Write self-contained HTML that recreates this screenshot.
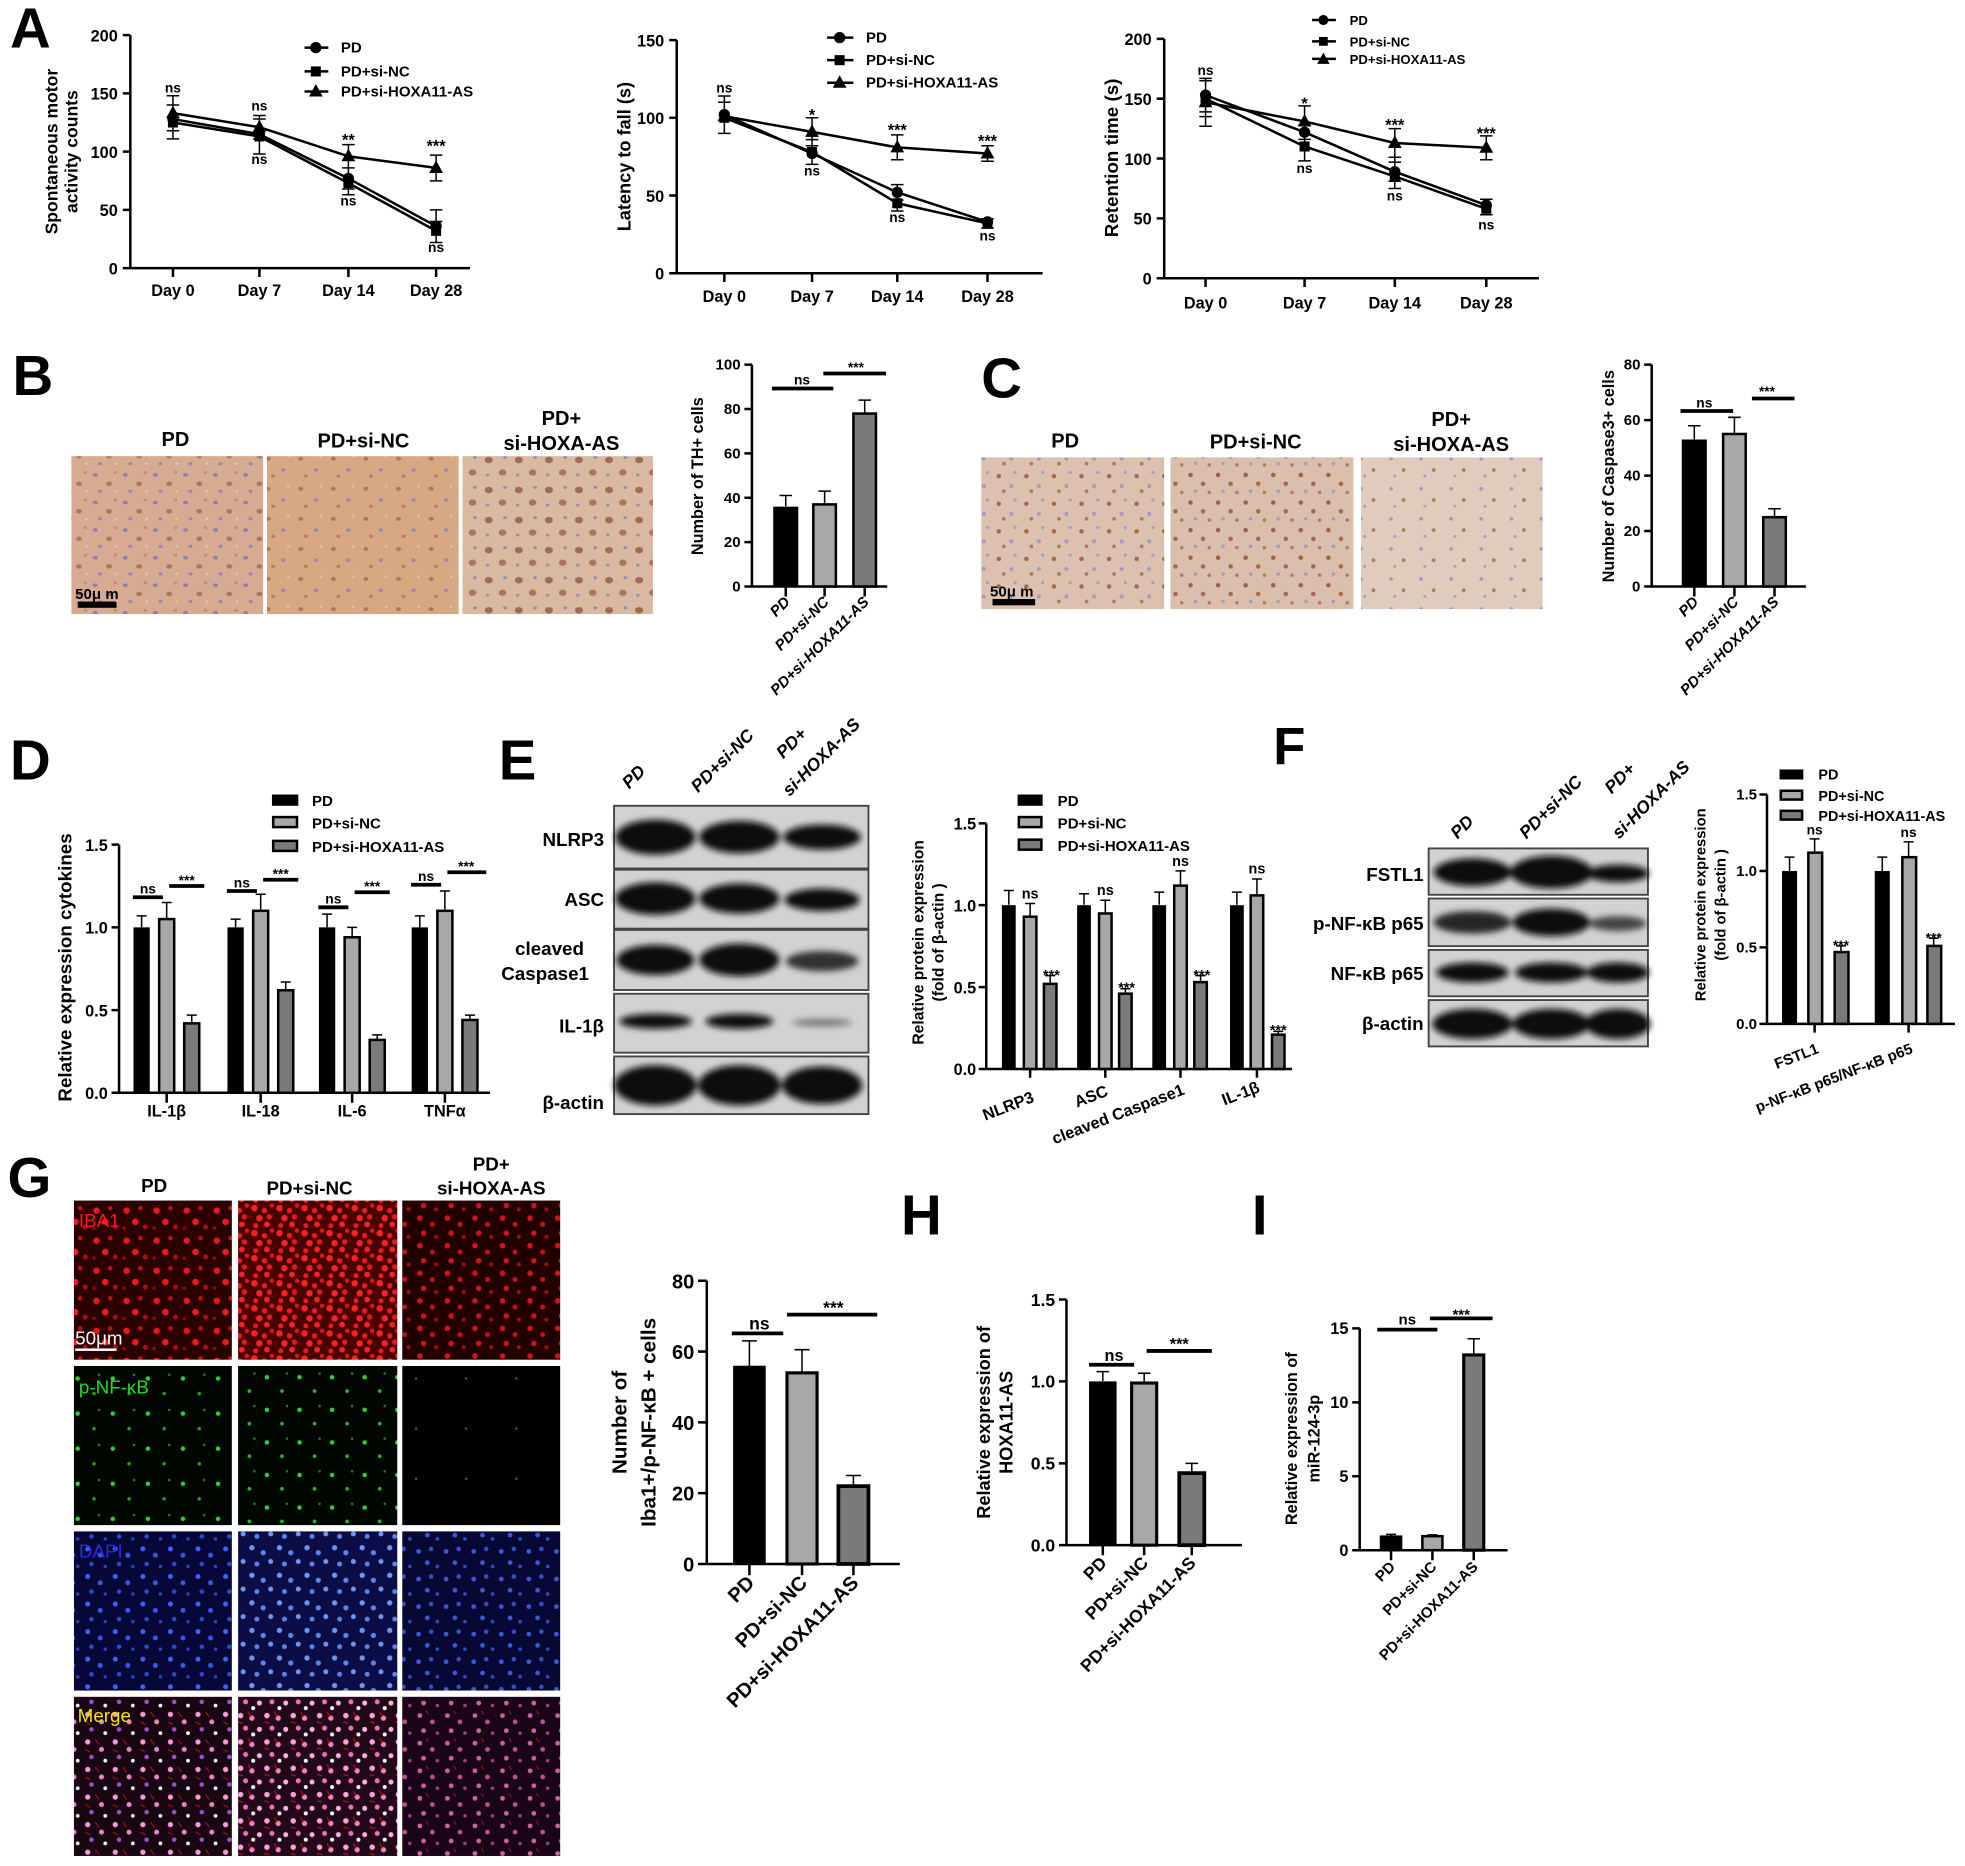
<!DOCTYPE html>
<html><head><meta charset="utf-8">
<style>html,body{margin:0;padding:0;background:#fff;overflow:hidden}svg{display:block}</style>
</head><body>
<svg width="1965" height="1866" viewBox="0 0 1568 1489" preserveAspectRatio="none" xmlns="http://www.w3.org/2000/svg">
<defs>
<filter id="bl" x="-30%" y="-60%" width="160%" height="220%"><feGaussianBlur stdDeviation="2.6"/></filter>
<pattern id="pB1" width="24" height="22" patternUnits="userSpaceOnUse"><rect width="24" height="22" fill="#d6ab91"/><ellipse cx="4" cy="5" rx="2" ry="1.5" fill="#8d80b0"/><ellipse cx="15" cy="12" rx="2.3" ry="1.8" fill="#a87761"/><ellipse cx="8" cy="18" rx="1.6" ry="1.3" fill="#9488b6"/><ellipse cx="20" cy="3" rx="1.4" ry="1.2" fill="#b9907c"/><circle cx="21" cy="18" r="1" fill="#e6c6b0"/></pattern>
<pattern id="pB2" width="26" height="24" patternUnits="userSpaceOnUse"><rect width="26" height="24" fill="#d8a883"/><ellipse cx="6" cy="6" rx="2" ry="1.6" fill="#a87a66"/><ellipse cx="18" cy="15" rx="1.7" ry="1.4" fill="#9a8ab0"/><ellipse cx="10" cy="20" rx="1.6" ry="1.3" fill="#b08068"/><circle cx="22" cy="4" r="1" fill="#e8c4a8"/></pattern>
<pattern id="pB3" width="24" height="24" patternUnits="userSpaceOnUse"><rect width="24" height="24" fill="#d9b9a1"/><ellipse cx="6" cy="7" rx="3.2" ry="2.6" fill="#a06b53"/><ellipse cx="17" cy="17" rx="3" ry="2.5" fill="#a87560"/><ellipse cx="19" cy="5" rx="1.5" ry="1.2" fill="#9488b6"/><ellipse cx="5" cy="19" rx="1.4" ry="1.2" fill="#9a8cba"/></pattern>
<pattern id="pC1" width="22" height="22" patternUnits="userSpaceOnUse"><rect width="22" height="22" fill="#dcc1ae"/><circle cx="5" cy="6" r="1.8" fill="#a4694d"/><circle cx="15" cy="14" r="1.6" fill="#a69ac0"/><circle cx="9" cy="18" r="1.5" fill="#b0785c"/><circle cx="18" cy="3" r="1.3" fill="#a89ec4"/></pattern>
<pattern id="pC2" width="22" height="22" patternUnits="userSpaceOnUse"><rect width="22" height="22" fill="#dabfac"/><circle cx="4" cy="5" r="1.8" fill="#9c6046"/><circle cx="14" cy="12" r="1.8" fill="#a4694d"/><circle cx="8" cy="18" r="1.4" fill="#a69ac0"/><circle cx="19" cy="19" r="1.4" fill="#b07a60"/></pattern>
<pattern id="pC3" width="24" height="24" patternUnits="userSpaceOnUse"><rect width="24" height="24" fill="#e0cbbd"/><circle cx="6" cy="6" r="1.5" fill="#a69ac0"/><circle cx="16" cy="15" r="1.5" fill="#ae7a62"/><circle cx="9" cy="20" r="1.2" fill="#a89ec4"/></pattern>
<pattern id="pR1" width="24" height="24" patternUnits="userSpaceOnUse"><rect width="24" height="24" fill="#2a0000"/><circle cx="5" cy="6" r="2.6" fill="#e81616"/><circle cx="16" cy="4" r="1.8" fill="#c01010"/><circle cx="12" cy="15" r="2.6" fill="#f01a1a"/><circle cx="20" cy="19" r="2" fill="#b00c0c"/><circle cx="3" cy="20" r="1.4" fill="#900a0a"/></pattern>
<pattern id="pR2" width="20" height="20" patternUnits="userSpaceOnUse"><rect width="20" height="20" fill="#480000"/><circle cx="3" cy="4" r="2.6" fill="#ff2020"/><circle cx="11" cy="6" r="2.2" fill="#f01818"/><circle cx="17" cy="2" r="1.8" fill="#e01515"/><circle cx="7" cy="12" r="2.6" fill="#ff2222"/><circle cx="15" cy="11" r="2.2" fill="#e81818"/><circle cx="4" cy="18" r="2" fill="#f01a1a"/><circle cx="13" cy="17" r="2.3" fill="#ff2020"/></pattern>
<pattern id="pR3" width="22" height="22" patternUnits="userSpaceOnUse"><rect width="22" height="22" fill="#220000"/><circle cx="5" cy="4" r="2.2" fill="#d41414"/><circle cx="15" cy="9" r="2" fill="#c81212"/><circle cx="8" cy="16" r="2.2" fill="#d01414"/><circle cx="18" cy="19" r="1.6" fill="#a00e0e"/></pattern>
<pattern id="pG1" width="28" height="28" patternUnits="userSpaceOnUse"><rect width="28" height="28" fill="#010601"/><circle cx="6" cy="8" r="1.8" fill="#2bd42b"/><circle cx="19" cy="20" r="1.4" fill="#1fa81f"/><circle cx="23" cy="5" r="1" fill="#188818"/></pattern>
<pattern id="pG2" width="26" height="26" patternUnits="userSpaceOnUse"><rect width="26" height="26" fill="#010601"/><circle cx="5" cy="7" r="1.8" fill="#2bd42b"/><circle cx="17" cy="18" r="1.5" fill="#22b822"/><circle cx="21" cy="4" r="1" fill="#168016"/></pattern>
<pattern id="pG3" width="40" height="40" patternUnits="userSpaceOnUse"><rect width="40" height="40" fill="#000"/><circle cx="12" cy="20" r="1" fill="#1a7a1a"/></pattern>
<pattern id="pL1" width="22" height="22" patternUnits="userSpaceOnUse"><rect width="22" height="22" fill="#080838"/><circle cx="4" cy="4" r="2" fill="#3a62ff"/><circle cx="14" cy="9" r="2" fill="#3358e8"/><circle cx="7" cy="16" r="1.8" fill="#2c4cd0"/><circle cx="18" cy="18" r="1.4" fill="#2a44b8"/></pattern>
<pattern id="pL2" width="22" height="22" patternUnits="userSpaceOnUse"><rect width="22" height="22" fill="#0c0c46"/><circle cx="3" cy="3" r="2.1" fill="#6e96f0"/><circle cx="12" cy="7" r="2.1" fill="#5a84e8"/><circle cx="18" cy="14" r="2" fill="#6e96f0"/><circle cx="7" cy="16" r="2" fill="#5a84e8"/></pattern>
<pattern id="pL3" width="22" height="22" patternUnits="userSpaceOnUse"><rect width="22" height="22" fill="#080834"/><circle cx="4" cy="6" r="1.9" fill="#3c58d8"/><circle cx="14" cy="4" r="1.8" fill="#3450c8"/><circle cx="11" cy="15" r="1.9" fill="#3c58d8"/><circle cx="19" cy="18" r="1.5" fill="#3048c0"/></pattern>
<pattern id="pM1" width="22" height="22" patternUnits="userSpaceOnUse"><rect width="22" height="22" fill="#180612"/><circle cx="4" cy="4" r="2.1" fill="#ff98d8"/><circle cx="15" cy="10" r="2" fill="#f080c8"/><circle cx="7" cy="16" r="1.8" fill="#a050d0"/><circle cx="18" cy="19" r="1.5" fill="#ffffff"/><path d="M10 2l3 4M2 10l4 2" stroke="#a01010" stroke-width="1"/></pattern>
<pattern id="pM2" width="21" height="21" patternUnits="userSpaceOnUse"><rect width="21" height="21" fill="#220818"/><circle cx="3" cy="4" r="2.2" fill="#ffa0d8"/><circle cx="12" cy="6" r="2.1" fill="#ff80c0"/><circle cx="18" cy="15" r="2" fill="#ffb0e0"/><circle cx="7" cy="14" r="2" fill="#f070b8"/><circle cx="13" cy="19" r="1.6" fill="#ffffff"/><path d="M9 1l2 4M1 9l4 1" stroke="#b01414" stroke-width="1"/></pattern>
<pattern id="pM3" width="22" height="22" patternUnits="userSpaceOnUse"><rect width="22" height="22" fill="#1a0518"/><circle cx="5" cy="5" r="1.9" fill="#d060a0"/><circle cx="15" cy="10" r="1.9" fill="#c05090"/><circle cx="8" cy="17" r="1.9" fill="#d060a0"/><circle cx="19" cy="19" r="1.4" fill="#a04088"/><path d="M10 1l2 3" stroke="#901010" stroke-width="1"/></pattern>
</defs>
<style>
text{font-family:"Liberation Sans",Arial,sans-serif;font-weight:bold;fill:#000}
.m{text-anchor:middle}.e{text-anchor:end}.n{font-weight:normal}.i{font-style:italic}
.ax{stroke:#000;stroke-width:2;fill:none}
.eb{stroke:#000;stroke-width:1.2;fill:none}
.ln{stroke:#000;stroke-width:2;fill:none}
.lg{fill:#a8a8a8;stroke:#000;stroke-width:2}
.dg{fill:#7a7a7a;stroke:#000;stroke-width:2}
.br{stroke:#000;stroke-width:3}
.blot{fill:#d2d2d2;stroke:#444;stroke-width:1.5}
.bd{fill:#111;filter:url(#bl)}
</style>
<rect width="1568" height="1489" fill="#fff"/>

<!-- Panel letters -->
<text x="8" y="38" font-size="45">A</text>
<text x="10" y="315" font-size="45">B</text>
<text x="783" y="317" font-size="45">C</text>
<text x="8" y="622" font-size="45">D</text>
<text x="398" y="622" font-size="45">E</text>
<text x="1016" y="610" font-size="42">F</text>
<text x="6" y="955" font-size="45">G</text>
<text x="719" y="985" font-size="45">H</text>
<text x="999" y="985" font-size="45">I</text>

<!-- ===== A1 ===== -->
<path class="ax" d="M104 28V214H375M98 28H104M98 74.5H104M98 121H104M98 167.5H104M98 214H104M138 214v7M207 214v7M278 214v7M348 214v7"/>
<g font-size="13" class="e"><text x="94" y="33">200</text><text x="94" y="79.5">150</text><text x="94" y="126">100</text><text x="94" y="172.5">50</text><text x="94" y="219">0</text></g>
<g font-size="13" class="m"><text x="138" y="236">Day 0</text><text x="207" y="236">Day 7</text><text x="278" y="236">Day 14</text><text x="348" y="236">Day 28</text></g>
<text transform="translate(46,121) rotate(-90)" class="m" font-size="14">Spontaneous motor</text>
<text transform="translate(62,121) rotate(-90)" class="m" font-size="14">activity counts</text>
<polyline class="ln" points="138,95 207,107.1 278,142.4 348,180.5"/>
<polyline class="ln" points="138,97.75 207,108.9 278,146.1 348,184.2"/>
<polyline class="ln" points="138,90.3 207,101.5 278,124.7 348,134"/>
<path class="eb" d="M138 76.4V110.8M133 76.4h10M133 83.8h10M133 104.3h10M133 110.8h10M207 92.2V122.9M202 92.2h10M202 95h10M202 110.8h10M202 122.9h10M278 115.4V155.4M273 115.4h10M273 134h10M273 150.8h10M273 155.4h10M348 123.8V144.3M343 123.8h10M343 144.3h10M348 167.5V193.5M343 167.5h10M343 176.8h10M343 193.5h10"/>
<g fill="#000"><circle cx="138" cy="95" r="4.5"/><circle cx="207" cy="107.1" r="4.5"/><circle cx="278" cy="142.4" r="4.5"/><circle cx="348" cy="180.5" r="4.5"/>
<rect x="134" y="93.75" width="8" height="8"/><rect x="203" y="104.9" width="8" height="8"/><rect x="274" y="142.1" width="8" height="8"/><rect x="344" y="180.2" width="8" height="8"/>
<polygon points="138,84.3 132.5,94.3 143.5,94.3"/><polygon points="207,95.5 201.5,105.5 212.5,105.5"/><polygon points="278,118.7 272.5,128.7 283.5,128.7"/><polygon points="348,128 342.5,138 353.5,138"/></g>
<g font-size="11" class="m"><text x="138" y="74">ns</text><text x="207" y="88">ns</text><text x="207" y="131">ns</text><text x="278" y="116" font-size="13">**</text><text x="278" y="164">ns</text><text x="348" y="121" font-size="13">***</text><text x="348" y="201">ns</text></g>
<path class="ln" d="M243 38H262M243 57H262M243 73H262"/>
<g fill="#000"><circle cx="252" cy="38" r="4.5"/><rect x="248" y="53" width="8" height="8"/><polygon points="252,67 246.5,77 257.5,77"/></g>
<g font-size="12"><text x="272" y="42">PD</text><text x="272" y="61">PD+si-NC</text><text x="272" y="77">PD+si-HOXA11-AS</text></g>

<!-- ===== A2 ===== -->
<path class="ax" d="M540 32V218H832M534 32H540M534 94H540M534 156H540M534 218H540M578 218v7M648 218v7M716 218v7M788 218v7"/>
<g font-size="13" class="e"><text x="530" y="37">150</text><text x="530" y="99">100</text><text x="530" y="161">50</text><text x="530" y="223">0</text></g>
<g font-size="13" class="m"><text x="578" y="241">Day 0</text><text x="648" y="241">Day 7</text><text x="716" y="241">Day 14</text><text x="788" y="241">Day 28</text></g>
<text transform="translate(503,125) rotate(-90)" class="m" font-size="14.5">Latency to fall (s)</text>
<polyline class="ln" points="578,91.5 648,122.5 716,153.5 788,177.1"/>
<polyline class="ln" points="578,94 648,121.3 716,162.2 788,178.3"/>
<polyline class="ln" points="578,92.8 648,105.2 716,117.6 788,122.5"/>
<path class="eb" d="M578 76.6V106.4M573 76.6h10M573 81.6h10M573 106.4h10M648 94V131.2M643 94h10M643 111.4h10M643 116.3h10M643 131.2h10M716 107.6V127.5M711 107.6h10M711 127.5h10M716 147.3V168.4M711 147.3h10M711 159.7h10M711 168.4h10M788 116.3V128.7M783 116.3h10M783 128.7h10M788 174.6V182M783 174.6h10M783 182h10"/>
<g fill="#000"><circle cx="578" cy="91.5" r="4.5"/><circle cx="648" cy="122.5" r="4.5"/><circle cx="716" cy="153.5" r="4.5"/><circle cx="788" cy="177.1" r="4.5"/>
<rect x="574" y="90" width="8" height="8"/><rect x="644" y="117.3" width="8" height="8"/><rect x="712" y="158.2" width="8" height="8"/><rect x="784" y="174.3" width="8" height="8"/>
<polygon points="578,86.8 572.5,96.8 583.5,96.8"/><polygon points="648,99.2 642.5,109.2 653.5,109.2"/><polygon points="716,111.6 710.5,121.6 721.5,121.6"/><polygon points="788,116.5 782.5,126.5 793.5,126.5"/></g>
<g font-size="11" class="m"><text x="578" y="74">ns</text><text x="648" y="96" font-size="13">*</text><text x="648" y="140">ns</text><text x="716" y="108" font-size="13">***</text><text x="716" y="177">ns</text><text x="788" y="117" font-size="13">***</text><text x="788" y="192">ns</text></g>
<path class="ln" d="M660 30H681M660 48H681M660 66H681"/>
<g fill="#000"><circle cx="670" cy="30" r="4.5"/><rect x="666" y="44" width="8" height="8"/><polygon points="670,60 664.5,70 675.5,70"/></g>
<g font-size="12"><text x="691" y="34">PD</text><text x="691" y="52">PD+si-NC</text><text x="691" y="70">PD+si-HOXA11-AS</text></g>

<!-- ===== A3 ===== -->
<path class="ax" d="M929 31V222H1228M923 31H929M923 78.75H929M923 126.5H929M923 174.25H929M923 222H929M962 222v7M1041 222v7M1113 222v7M1186 222v7"/>
<g font-size="13" class="e"><text x="919" y="36">200</text><text x="919" y="83.75">150</text><text x="919" y="131.5">100</text><text x="919" y="179.25">50</text><text x="919" y="227">0</text></g>
<g font-size="13" class="m"><text x="962" y="246">Day 0</text><text x="1041" y="246">Day 7</text><text x="1113" y="246">Day 14</text><text x="1186" y="246">Day 28</text></g>
<text transform="translate(892,126) rotate(-90)" class="m" font-size="15">Retention time (s)</text>
<polyline class="ln" points="962,75.9 1041,105.5 1113,137 1186,163.7"/>
<polyline class="ln" points="962,78.75 1041,116.9 1113,140.8 1186,166.6"/>
<polyline class="ln" points="962,81.6 1041,96.9 1113,114.1 1186,117.9"/>
<path class="eb" d="M962 62.5V100.7M957 62.5h10M957 64.4h10M957 89.3h10M957 93.1h10M957 100.7h10M1041 84.5V128.4M1036 84.5h10M1036 99.8h10M1036 111.2h10M1036 128.4h10M1113 102.6V150.4M1108 102.6h10M1108 125.5h10M1108 129.4h10M1108 144.6h10M1108 150.4h10M1186 108.4V127.5M1181 108.4h10M1181 127.5h10M1186 159V171.4M1181 159h10M1181 171.4h10"/>
<g fill="#000"><circle cx="962" cy="75.9" r="4.5"/><circle cx="1041" cy="105.5" r="4.5"/><circle cx="1113" cy="137" r="4.5"/><circle cx="1186" cy="163.7" r="4.5"/>
<rect x="958" y="74.75" width="8" height="8"/><rect x="1037" y="112.9" width="8" height="8"/><rect x="1109" y="136.8" width="8" height="8"/><rect x="1182" y="162.6" width="8" height="8"/>
<polygon points="962,75.6 956.5,85.6 967.5,85.6"/><polygon points="1041,90.9 1035.5,100.9 1046.5,100.9"/><polygon points="1113,108.1 1107.5,118.1 1118.5,118.1"/><polygon points="1186,111.9 1180.5,121.9 1191.5,121.9"/></g>
<g font-size="11" class="m"><text x="962" y="60">ns</text><text x="1041" y="87" font-size="13">*</text><text x="1041" y="138">ns</text><text x="1113" y="104" font-size="13">***</text><text x="1113" y="160">ns</text><text x="1186" y="111" font-size="13">***</text><text x="1186" y="183">ns</text></g>
<path class="ln" d="M1047 16H1066M1047 33H1066M1047 47H1066"/>
<g fill="#000"><circle cx="1056" cy="16" r="4"/><rect x="1052.5" y="29.5" width="7" height="7"/><polygon points="1056,42 1051,51 1061,51"/></g>
<g font-size="10.5"><text x="1077" y="20">PD</text><text x="1077" y="37">PD+si-NC</text><text x="1077" y="51">PD+si-HOXA11-AS</text></g>

<!-- ===== B ===== -->
<g font-size="16" class="m"><text x="140" y="356">PD</text><text x="290" y="357">PD+si-NC</text><text x="448" y="339">PD+</text><text x="448" y="359">si-HOXA-AS</text></g>
<rect x="57" y="364" width="153" height="126" fill="url(#pB1)"/>
<rect x="213" y="364" width="153" height="126" fill="url(#pB2)"/>
<rect x="369" y="364" width="152" height="126" fill="url(#pB3)"/>
<text x="60" y="478" font-size="12">50μ m</text>
<rect x="62" y="480" width="31" height="5" fill="#000"/>
<path class="ax" d="M600 291V468H708M594 291H600M594 326.4H600M594 361.8H600M594 397.2H600M594 432.6H600M594 468H600M627 468v8M658 468v8M690 468v8"/>
<g font-size="12" class="e"><text x="591" y="295">100</text><text x="591" y="330.4">80</text><text x="591" y="365.8">60</text><text x="591" y="401.2">40</text><text x="591" y="436.6">20</text><text x="591" y="472">0</text></g>
<text transform="translate(561,380) rotate(-90)" class="m" font-size="13">Number of TH+ cells</text>
<rect x="617" y="404.3" width="20" height="63.7" fill="#000"/>
<rect x="649" y="402.5" width="18" height="65.5" class="lg"/>
<rect x="681" y="330" width="18" height="138" class="dg"/>
<path class="eb" d="M627 395.4V404M622 395.4h10M658 391.9V402M653 391.9h10M690 319.3V330M685 319.3h10"/>
<path class="br" d="M616 310H665M657 298H707"/>
<g font-size="11" class="m n"><text x="640" y="307">ns</text><text x="683" y="297">***</text></g>
<g font-size="12" class="e i"><text transform="translate(631,481) rotate(-45)">PD</text><text transform="translate(662,481) rotate(-45)">PD+si-NC</text><text transform="translate(694,481) rotate(-45)">PD+si-HOXA11-AS</text></g>

<!-- ===== C ===== -->
<g font-size="16" class="m"><text x="850" y="357">PD</text><text x="1002" y="358">PD+si-NC</text><text x="1158" y="340">PD+</text><text x="1158" y="360">si-HOXA-AS</text></g>
<rect x="783" y="365" width="146" height="121" fill="url(#pC1)"/>
<rect x="934" y="365" width="146" height="121" fill="url(#pC2)"/>
<rect x="1086" y="365" width="145" height="121" fill="url(#pC3)"/>
<text x="790" y="476" font-size="12">50μ m</text>
<rect x="792" y="478" width="34" height="5" fill="#000"/>
<path class="ax" d="M1318 291V468H1441M1312 291H1318M1312 335.25H1318M1312 379.5H1318M1312 423.75H1318M1312 468H1318M1352 468v8M1384 468v8M1416 468v8"/>
<g font-size="12" class="e"><text x="1309" y="295">80</text><text x="1309" y="339.25">60</text><text x="1309" y="383.5">40</text><text x="1309" y="427.75">20</text><text x="1309" y="472">0</text></g>
<text transform="translate(1288,380) rotate(-90)" class="m" font-size="13">Number of Caspase3+ cells</text>
<rect x="1342" y="350.7" width="20" height="117.3" fill="#000"/>
<rect x="1375" y="346.3" width="18" height="121.7" class="lg"/>
<rect x="1407" y="412.7" width="18" height="55.3" class="dg"/>
<path class="eb" d="M1352 339.7V351M1347 339.7h10M1384 333V346M1379 333h10M1416 406V413M1411 406h10"/>
<path class="br" d="M1341 328H1383M1398 318H1432"/>
<g font-size="11" class="m n"><text x="1360" y="325">ns</text><text x="1410" y="316">***</text></g>
<g font-size="12" class="e i"><text transform="translate(1356,481) rotate(-45)">PD</text><text transform="translate(1388,481) rotate(-45)">PD+si-NC</text><text transform="translate(1420,481) rotate(-45)">PD+si-HOXA11-AS</text></g>

<!-- ===== D ===== -->
<rect x="217" y="634" width="21" height="9" fill="#000"/>
<rect x="218" y="652" width="19" height="8" class="lg"/>
<rect x="218" y="671" width="19" height="8" class="dg"/>
<g font-size="12"><text x="249" y="643">PD</text><text x="249" y="661">PD+si-NC</text><text x="249" y="680">PD+si-HOXA11-AS</text></g>
<path class="ax" d="M95 674V872H391M89 674H95M89 740H95M89 806H95M89 872H95M133 872v8M208 872v8M281 872v8M355 872v8"/>
<g font-size="13" class="e"><text x="86" y="679">1.5</text><text x="86" y="745">1.0</text><text x="86" y="811">0.5</text><text x="86" y="877">0.0</text></g>
<text transform="translate(57,772) rotate(-90)" class="m" font-size="15">Relative expression cytokines</text>
<g fill="#000"><rect x="106.5" y="740" width="13" height="132"/><rect x="181.5" y="740" width="13" height="132"/><rect x="254.5" y="740" width="13" height="132"/><rect x="328.5" y="740" width="13" height="132"/></g>
<rect x="127" y="733.4" width="12" height="138.6" class="lg"/><rect x="202" y="726.8" width="12" height="145.2" class="lg"/><rect x="275" y="747.9" width="12" height="124.1" class="lg"/><rect x="349" y="726.8" width="12" height="145.2" class="lg"/>
<rect x="147" y="816.6" width="12" height="55.4" class="dg"/><rect x="222" y="790.2" width="12" height="81.8" class="dg"/><rect x="295" y="829.8" width="12" height="42.2" class="dg"/><rect x="369" y="813.9" width="12" height="58.1" class="dg"/>
<path class="eb" d="M113 730.8V740M109 730.8h8M133 720.2V733M129 720.2h8M153 810V816M149 810h8M188 733.4V740M184 733.4h8M208 713.6V726M204 713.6h8M228 783.6V790M224 783.6h8M261 729.4V740M257 729.4h8M281 740V747M277 740h8M301 825.8V829M297 825.8h8M335 730.8V740M331 730.8h8M355 711V726M351 711h8M375 810V813M371 810h8"/>
<path class="br" d="M106 716H130M135 707H163M181 711H205M210 702H238M254 724H278M283 712H311M328 706H352M357 696H388"/>
<g font-size="11" class="m n"><text x="118" y="713">ns</text><text x="149" y="706">***</text><text x="193" y="708">ns</text><text x="224" y="701">***</text><text x="266" y="721">ns</text><text x="297" y="711">***</text><text x="340" y="703">ns</text><text x="372" y="695">***</text></g>
<g font-size="13" class="m"><text x="133" y="891">IL-1β</text><text x="208" y="891">IL-18</text><text x="281" y="891">IL-6</text><text x="355" y="891">TNFα</text></g>

<!-- ===== E blots ===== -->
<g font-size="14" class="i"><text transform="translate(502,630) rotate(-45)">PD</text><text transform="translate(557,633) rotate(-45)">PD+si-NC</text><text transform="translate(625,606) rotate(-45)">PD+</text><text transform="translate(630,636) rotate(-45)">si-HOXA-AS</text></g>
<rect x="490" y="643" width="203" height="50" class="blot"/>
<rect x="490" y="694" width="203" height="47" class="blot"/>
<rect x="490" y="742" width="203" height="48" class="blot"/>
<rect x="490" y="793" width="203" height="47" class="blot"/>
<rect x="490" y="843" width="203" height="46" class="blot"/>
<g class="bd"><ellipse cx="523" cy="668" rx="32" ry="14"/><ellipse cx="590" cy="668" rx="32" ry="13"/><ellipse cx="656" cy="668" rx="31" ry="10"/>
<ellipse cx="523" cy="717" rx="32" ry="13"/><ellipse cx="590" cy="717" rx="32" ry="12"/><ellipse cx="656" cy="718" rx="30" ry="9"/>
<ellipse cx="523" cy="766" rx="31" ry="12"/><ellipse cx="590" cy="766" rx="32" ry="13"/><ellipse cx="656" cy="767" rx="29" ry="8" style="fill:#333"/>
<ellipse cx="523" cy="815" rx="29" ry="6"/><ellipse cx="590" cy="815" rx="27" ry="6"/><ellipse cx="656" cy="816" rx="24" ry="3" style="fill:#777"/>
<ellipse cx="523" cy="866" rx="33" ry="16"/><ellipse cx="590" cy="866" rx="33" ry="16"/><ellipse cx="656" cy="866" rx="32" ry="15"/></g>
<g font-size="15" class="e"><text x="482" y="675">NLRP3</text><text x="482" y="723">ASC</text><text x="466" y="762">cleaved</text><text x="470" y="782">Caspase1</text><text x="482" y="824">IL-1β</text><text x="482" y="885">β-actin</text></g>

<!-- ===== E chart ===== -->
<rect x="812" y="634" width="20" height="9" fill="#000"/>
<rect x="813" y="652" width="18" height="8" class="lg"/>
<rect x="813" y="670" width="18" height="8" class="dg"/>
<g font-size="12"><text x="844" y="643">PD</text><text x="844" y="661">PD+si-NC</text><text x="844" y="679">PD+si-HOXA11-AS</text></g>
<path class="ax" d="M787 657V853H1031M781 657H787M781 722.3H787M781 787.7H787M781 853H787M822 853v7M882 853v7M942 853v7M1003 853v7"/>
<g font-size="13" class="e"><text x="779" y="662">1.5</text><text x="779" y="727.3">1.0</text><text x="779" y="792.7">0.5</text><text x="779" y="858">0.0</text></g>
<text transform="translate(737,752) rotate(-90)" class="m" font-size="12.5">Relative protein expression</text>
<text transform="translate(753,752) rotate(-90)" class="m" font-size="12.5">(fold of β-actin )</text>
<g fill="#000"><rect x="799.5" y="722.3" width="11" height="130.7"/><rect x="859.5" y="722.3" width="11" height="130.7"/><rect x="919.5" y="722.3" width="11" height="130.7"/><rect x="981.5" y="722.3" width="11" height="130.7"/></g>
<rect x="817" y="731.5" width="10" height="121.5" class="lg"/><rect x="877" y="728.9" width="10" height="124.1" class="lg"/><rect x="937" y="706.7" width="10" height="146.3" class="lg"/><rect x="998" y="714.5" width="10" height="138.5" class="lg"/>
<rect x="833" y="785.1" width="10" height="67.9" class="dg"/><rect x="893" y="792.9" width="10" height="60.1" class="dg"/><rect x="953" y="783.7" width="10" height="69.3" class="dg"/><rect x="1015" y="825.6" width="10" height="27.4" class="dg"/>
<path class="eb" d="M805 710.6V722M801 710.6h8M865 713.2V722M861 713.2h8M925 711.9V722M921 711.9h8M987 711.9V722M983 711.9h8M822 721V731M818 721h8M882 718.4V729M878 718.4h8M942 694.9V706M938 694.9h8M1003 701.4V714M999 701.4h8M838 778.5V785M834 778.5h8M898 789V793M894 789h8M958 778.5V784M954 778.5h8M1020 823V826M1016 823h8"/>
<g font-size="11.5" class="m n"><text x="822" y="717">ns</text><text x="882" y="714">ns</text><text x="942" y="691">ns</text><text x="1003" y="697">ns</text><text x="839" y="782">***</text><text x="899" y="792">***</text><text x="959" y="782">***</text><text x="1020" y="826">***</text></g>
<g font-size="13" class="e"><text transform="translate(826,879) rotate(-21)">NLRP3</text><text transform="translate(885,874) rotate(-21)">ASC</text><text transform="translate(946,873) rotate(-21)">cleaved Caspase1</text><text transform="translate(1006,871) rotate(-21)">IL-1β</text></g>

<!-- ===== F blots ===== -->
<g font-size="14" class="i"><text transform="translate(1163,670) rotate(-45)">PD</text><text transform="translate(1218,670) rotate(-45)">PD+si-NC</text><text transform="translate(1286,634) rotate(-45)">PD+</text><text transform="translate(1292,670) rotate(-45)">si-HOXA-AS</text></g>
<rect x="1140" y="677" width="175" height="37" class="blot"/>
<rect x="1140" y="717" width="175" height="38" class="blot"/>
<rect x="1140" y="758" width="175" height="37" class="blot"/>
<rect x="1140" y="798" width="175" height="37" class="blot"/>
<g class="bd"><ellipse cx="1175" cy="696" rx="31" ry="11"/><ellipse cx="1238" cy="696" rx="33" ry="13"/><ellipse cx="1291" cy="697" rx="25" ry="7"/>
<ellipse cx="1175" cy="736" rx="31" ry="9" style="fill:#252525"/><ellipse cx="1238" cy="736" rx="31" ry="11"/><ellipse cx="1291" cy="737" rx="23" ry="6" style="fill:#444"/>
<ellipse cx="1175" cy="776" rx="29" ry="8"/><ellipse cx="1238" cy="776" rx="29" ry="8"/><ellipse cx="1291" cy="776" rx="25" ry="8"/>
<ellipse cx="1175" cy="817" rx="32" ry="12"/><ellipse cx="1238" cy="817" rx="31" ry="12"/><ellipse cx="1291" cy="817" rx="26" ry="12"/></g>
<g font-size="15" class="e"><text x="1136" y="703">FSTL1</text><text x="1136" y="742">p-NF-κB p65</text><text x="1136" y="782">NF-κB p65</text><text x="1136" y="822">β-actin</text></g>

<!-- ===== F chart ===== -->
<rect x="1420" y="614" width="19" height="8" fill="#000"/>
<rect x="1421" y="631" width="17" height="7" class="lg"/>
<rect x="1421" y="647" width="17" height="7" class="dg"/>
<g font-size="11.5"><text x="1451" y="622">PD</text><text x="1451" y="639">PD+si-NC</text><text x="1451" y="655">PD+si-HOXA11-AS</text></g>
<path class="ax" d="M1410 634V817H1560M1404 634H1410M1404 695H1410M1404 756H1410M1404 817H1410M1448 817v7M1523 817v7"/>
<g font-size="12" class="e"><text x="1402" y="638">1.5</text><text x="1402" y="699">1.0</text><text x="1402" y="760">0.5</text><text x="1402" y="821">0.0</text></g>
<text transform="translate(1361,722) rotate(-90)" class="m" font-size="11.8">Relative protein expression</text>
<text transform="translate(1377,722) rotate(-90)" class="m" font-size="11.8">(fold of β-actin  )</text>
<g fill="#000"><rect x="1422" y="695" width="12" height="122"/><rect x="1496" y="695" width="12" height="122"/></g>
<rect x="1443" y="680.4" width="11" height="136.6" class="lg"/><rect x="1518" y="684" width="11" height="133" class="lg"/>
<rect x="1464" y="759.7" width="11" height="57.3" class="dg"/><rect x="1538" y="754.8" width="11" height="62.2" class="dg"/>
<path class="eb" d="M1428 684V695M1424 684h8M1502 684V695M1498 684h8M1448 669.4V680M1444 669.4h8M1523 671.8V684M1519 671.8h8M1469 754.8V760M1465 754.8h8M1543 748.7V755M1539 748.7h8"/>
<g font-size="11" class="m n"><text x="1448" y="666">ns</text><text x="1523" y="668">ns</text><text x="1469" y="758">***</text><text x="1543" y="752">***</text></g>
<g font-size="12" class="e"><text transform="translate(1452,840) rotate(-21)">FSTL1</text><text transform="translate(1527,840) rotate(-21)">p-NF-κB p65/NF-κB p65</text></g>

<!-- ===== G images ===== -->
<g font-size="15" class="m"><text x="123" y="951">PD</text><text x="247" y="953">PD+si-NC</text><text x="392" y="934">PD+</text><text x="392" y="953">si-HOXA-AS</text></g>
<rect x="59" y="958" width="126" height="127" fill="url(#pR1)"/>
<rect x="190" y="958" width="127" height="127" fill="url(#pR2)"/>
<rect x="321" y="958" width="126" height="127" fill="url(#pR3)"/>
<rect x="59" y="1090" width="126" height="127" fill="url(#pG1)"/>
<rect x="190" y="1090" width="127" height="127" fill="url(#pG2)"/>
<rect x="321" y="1090" width="126" height="127" fill="url(#pG3)"/>
<rect x="59" y="1222" width="126" height="127" fill="url(#pL1)"/>
<rect x="190" y="1222" width="127" height="127" fill="url(#pL2)"/>
<rect x="321" y="1222" width="126" height="127" fill="url(#pL3)"/>
<rect x="59" y="1354" width="126" height="127" fill="url(#pM1)"/>
<rect x="190" y="1354" width="127" height="127" fill="url(#pM2)"/>
<rect x="321" y="1354" width="126" height="127" fill="url(#pM3)"/>
<text x="63" y="979" font-size="15" class="n" style="fill:#ff1a1a">IBA1</text>
<text x="60" y="1073" font-size="15" class="n" style="fill:#fff">50μm</text>
<rect x="60" y="1076" width="33" height="2" fill="#fff"/>
<text x="63" y="1112" font-size="15" class="n" style="fill:#22dd22">p-NF-κB</text>
<text x="63" y="1243" font-size="15" class="n" style="fill:#2a2ae0">DAPI</text>
<text x="62" y="1374" font-size="15" class="n" style="fill:#e8e800">Merge</text>

<!-- ===== G chart ===== -->
<path class="ax" d="M564 1022V1248H718M557 1022H564M557 1078.5H564M557 1135H564M557 1191.5H564M557 1248H564M598 1248v9M640 1248v9M681 1248v9"/>
<g font-size="16" class="e"><text x="554" y="1028">80</text><text x="554" y="1084.5">60</text><text x="554" y="1141">40</text><text x="554" y="1197.5">20</text><text x="554" y="1254">0</text></g>
<text transform="translate(500,1135) rotate(-90)" class="m" font-size="16.5">Number of</text>
<text transform="translate(523,1135) rotate(-90)" class="m" font-size="16.5">Iba1+/p-NF-κB  + cells</text>
<rect x="585" y="1089.8" width="26" height="158.2" fill="#000"/>
<rect x="628" y="1095.5" width="24" height="152.5" class="lg" style="stroke-width:2.5"/>
<rect x="669" y="1185.9" width="24" height="62.1" class="dg" style="stroke-width:3"/>
<path class="eb" d="M598 1070V1090M592 1070h12M640 1077V1095M634 1077h12M681 1177.4V1186M675 1177.4h12"/>
<path class="br" d="M584 1064H625M628 1049H700"/>
<g font-size="14" class="m n"><text x="606" y="1061">ns</text><text x="665" y="1048">***</text></g>
<g font-size="16" class="e"><text transform="translate(603,1264) rotate(-45)">PD</text><text transform="translate(645,1264) rotate(-45)">PD+si-NC</text><text transform="translate(686,1264) rotate(-45)">PD+si-HOXA11-AS</text></g>

<!-- ===== H chart ===== -->
<path class="ax" d="M851 1037V1233H991M845 1037H851M845 1102.3H851M845 1167.7H851M845 1233H851M880 1233v8M913 1233v8M951 1233v8"/>
<g font-size="14" class="e"><text x="842" y="1042">1.5</text><text x="842" y="1107.3">1.0</text><text x="842" y="1172.7">0.5</text><text x="842" y="1238">0.0</text></g>
<text transform="translate(790,1135) rotate(-90)" class="m" font-size="14.5">Relative expression of</text>
<text transform="translate(808,1135) rotate(-90)" class="m" font-size="14.5">HOXA11-AS</text>
<rect x="869" y="1102.3" width="22" height="130.7" fill="#000"/>
<rect x="903" y="1103.6" width="20" height="129.4" class="lg" style="stroke-width:2.5"/>
<rect x="941" y="1175.5" width="20" height="57.5" class="dg" style="stroke-width:3"/>
<path class="eb" d="M880 1094.5V1102M875 1094.5h10M913 1095.8V1104M908 1095.8h10M951 1167.7V1176M946 1167.7h10"/>
<path class="br" d="M869 1089H905M915 1078H967"/>
<g font-size="13" class="m n"><text x="889" y="1086">ns</text><text x="941" y="1077">***</text></g>
<g font-size="14" class="e"><text transform="translate(884,1248) rotate(-45)">PD</text><text transform="translate(917,1248) rotate(-45)">PD+si-NC</text><text transform="translate(955,1248) rotate(-45)">PD+si-HOXA11-AS</text></g>

<!-- ===== I chart ===== -->
<path class="ax" d="M1085 1060V1237H1203M1079 1060H1085M1079 1119H1085M1079 1178H1085M1079 1237H1085M1110 1237v8M1143 1237v8M1176 1237v8"/>
<g font-size="13" class="e"><text x="1076" y="1064.5">15</text><text x="1076" y="1123.5">10</text><text x="1076" y="1182.5">5</text><text x="1076" y="1241.5">0</text></g>
<text transform="translate(1035,1148) rotate(-90)" class="m" font-size="13">Relative expression of</text>
<text transform="translate(1053,1148) rotate(-90)" class="m" font-size="13">miR-124-3p</text>
<rect x="1101" y="1225.2" width="18" height="11.8" fill="#000"/>
<rect x="1135" y="1225.8" width="16" height="11.2" class="lg"/>
<rect x="1168" y="1081.2" width="16" height="155.8" class="dg" style="stroke-width:2.5"/>
<path class="eb" d="M1110 1224.4V1226M1106 1224.4h8M1143 1224.8V1226M1139 1224.8h8M1176 1068.3V1081M1171 1068.3h10"/>
<path class="br" d="M1099 1061H1147M1141 1052H1191"/>
<g font-size="12" class="m n"><text x="1123" y="1057">ns</text><text x="1166" y="1053">***</text></g>
<g font-size="12" class="e"><text transform="translate(1114,1251) rotate(-45)">PD</text><text transform="translate(1147,1251) rotate(-45)">PD+si-NC</text><text transform="translate(1180,1251) rotate(-45)">PD+si-HOXA11-AS</text></g>
</svg>
</body></html>
